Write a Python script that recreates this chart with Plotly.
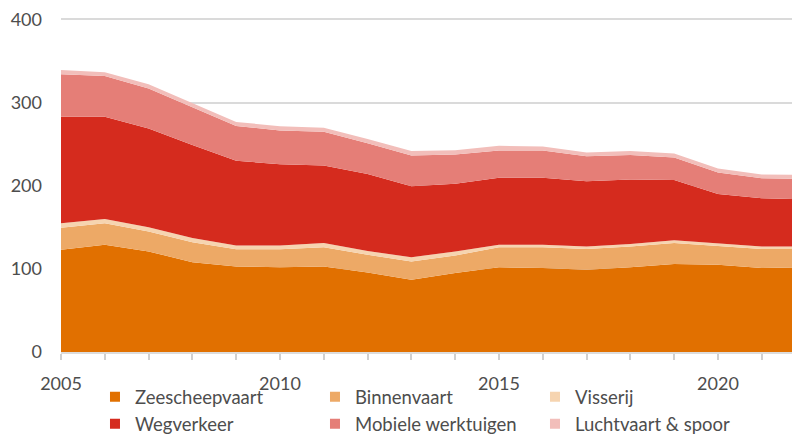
import plotly.graph_objects as go

years = list(range(2005, 2023))
zeescheepvaart = [123, 129, 121, 108, 103, 102, 103, 95.5, 87, 95, 102, 101, 99, 102, 106, 105, 101, 102]
binnenvaart    = [26.5, 26, 24, 24, 20.5, 21.5, 23, 21.5, 22, 21, 24, 25, 25, 25, 25, 22.5, 23, 22]
visserij       = [5.5, 5, 5, 5, 4.5, 4.5, 5, 4.5, 5, 5, 3, 3, 3, 3, 3.5, 3, 3, 3]
wegverkeer     = [128, 123, 119, 112, 102, 98, 93.5, 92.5, 85.5, 81.5, 80.5, 80.5, 78.5, 77.5, 72.5, 59.5, 58, 56.5]
mobiele        = [51, 49, 48, 45.5, 42, 40.5, 40.5, 37, 37, 35, 33, 33, 30, 29.5, 27, 26, 24, 24.5]
luchtvaart     = [5.3, 4.5, 5.2, 5.2, 4.8, 5.2, 4.8, 5.2, 5.2, 5.3, 5.6, 4.8, 4.5, 4.9, 4.8, 4.8, 4.5, 4.9]

series_names = ["Zeescheepvaart", "Binnenvaart", "Visserij",
                "Wegverkeer", "Mobiele werktuigen", "Luchtvaart & spoor"]
series_values = [zeescheepvaart, binnenvaart, visserij, wegverkeer, mobiele, luchtvaart]
colors = ["#E17000", "#EDA966", "#F6D4B0", "#D52B1E", "#E57E77", "#F2BEBA"]

y_ticks = [0, 100, 200, 300, 400]
x_ticks = [2005, 2010, 2015, 2020]

FONT = "Lato"
TXT = "#4d4d4d"

fig = go.Figure()
for name, vals, col in zip(series_names, series_values, colors):
    fig.add_trace(go.Scatter(
        x=years, y=vals, name=name, stackgroup="one", mode="lines",
        line=dict(width=0, color=col), fillcolor=col, showlegend=False,
        hoverinfo="x+y+name",
    ))
# legend entries (square swatches)
for name, col in zip(series_names, colors):
    fig.add_trace(go.Scatter(
        x=[None], y=[None], name=name, mode="markers",
        marker=dict(symbol="square", size=10, color=col), showlegend=True,
    ))

fig.update_layout(
    width=792, height=434,
    margin=dict(l=61, r=0, t=17, b=82, autoexpand=False),
    paper_bgcolor="white", plot_bgcolor="white",
    font=dict(family=FONT, size=18, color=TXT),
    showlegend=True,
    legend=dict(
        orientation="h", x=0.0465, xanchor="left", y=-0.078, yanchor="top",
        entrywidth=175, entrywidthmode="pixels", itemwidth=30,
        font=dict(family=FONT, size=18.5, color=TXT),
        traceorder="normal", bgcolor="rgba(0,0,0,0)", tracegroupgap=0,
    ),
    xaxis=dict(
        range=[2005, 2021.69], tickmode="array", tickvals=x_ticks,
        ticktext=[str(v) for v in x_ticks],
        showgrid=False, zeroline=False,
        showline=True, linecolor="#dcdcdc", linewidth=2,
        ticks="outside", ticklen=6, tickwidth=2, tickcolor="#d0d0d0",
        minor=dict(dtick=1, tick0=2005, ticks="outside", ticklen=6, tickwidth=2, tickcolor="#d0d0d0", showgrid=False),
        ticklabelstandoff=8,
        tickfont=dict(family=FONT, size=18, color=TXT),
    ),
    yaxis=dict(
        range=[0, 403], tickmode="array", tickvals=y_ticks,
        showgrid=True, gridcolor="#dadada", gridwidth=2,
        zeroline=False, showline=False, ticks="",
        ticklabelstandoff=18,
        tickfont=dict(family=FONT, size=18, color=TXT),
    ),
)

fig.write_html(
    "out.html",
    config={"displayModeBar": False},
    post_script="document.body.style.margin='0';document.body.style.overflow='hidden';",
)
